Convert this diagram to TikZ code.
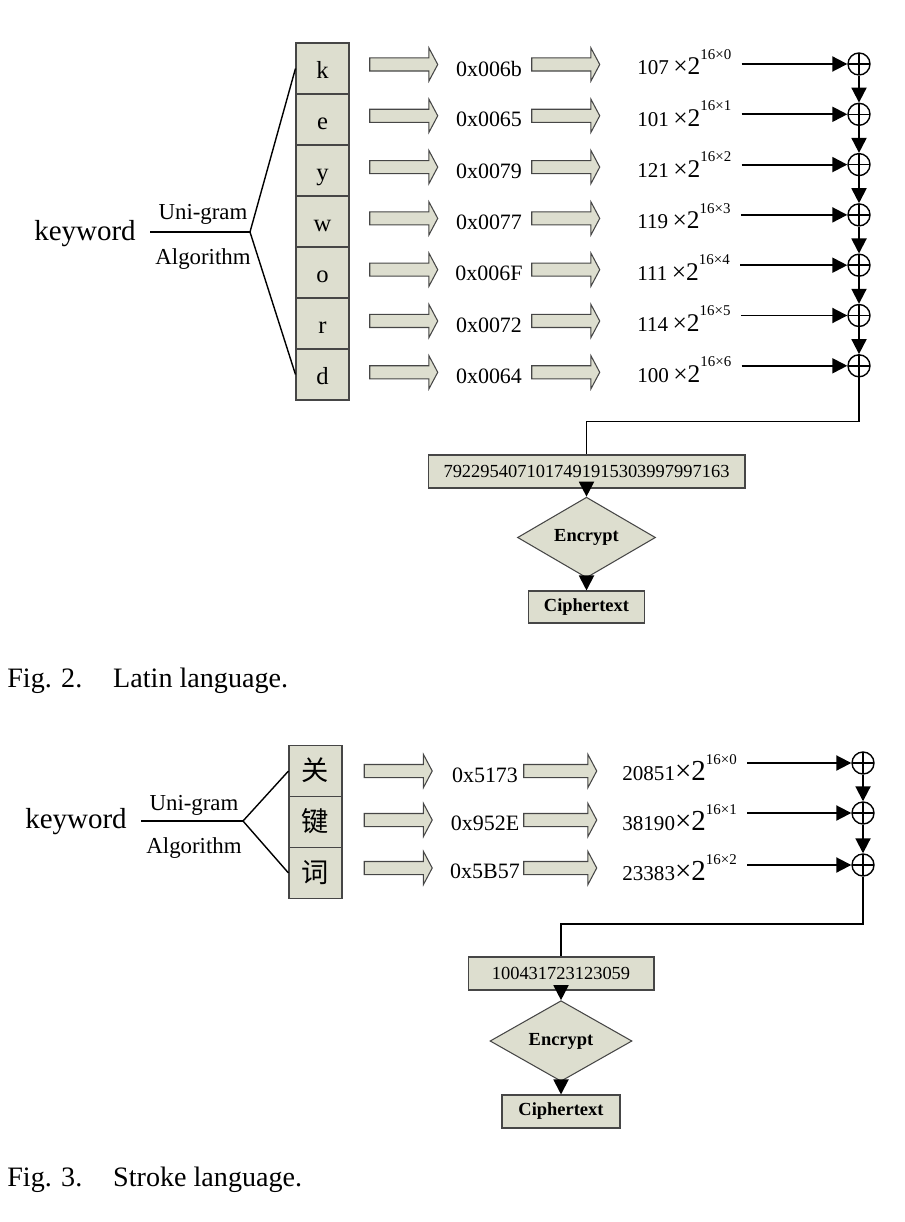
\documentclass[tikz,border=0pt]{standalone}
\usepackage{fontspec}
\setmainfont{Liberation Serif}
\newfontfamily\cjk{Noto Sans CJK SC}
\usetikzlibrary{arrows.meta, shapes.arrows, shapes.geometric, calc}
\definecolor{boxfill}{RGB}{221,222,207}
\definecolor{boxline}{RGB}{70,70,70}
\newcommand{\powterm}[4]{{\fontsize{12}{14}\selectfont #1}#2{\fontsize{#3}{18}\selectfont ×2}\raisebox{9pt}{\fontsize{8.5}{10}\selectfont 16×#4}}

\begin{document}
\begin{tikzpicture}[x=0.02cm, y=-0.02cm]
            \tikzset{cell/.style = {shape=rectangle, draw=boxline, fill=boxfill, line width=0.6pt, minimum width=1.06cm, minimum height=1.02cm, inner sep=0, text height=11.5pt, text depth=0.5pt, font=\fontsize{14}{16}\selectfont}}
            \tikzset{fat/.style = {single arrow, draw=boxline, fill=boxfill, line width=0.6pt, minimum height=1.36cm, inner xsep=0, inner ysep=0.12cm, single arrow head extend=0.2cm, single arrow tip angle=124}}
            \tikzset{hex/.style = {inner sep=0, font=\fontsize{12.5}{14}\selectfont}}
            \tikzset{term/.style = {anchor=base west, inner sep=0, inner xsep=0.2cm}}
            \tikzset{xorop/.style = {shape=circle, draw, line width=0.8pt, minimum size=0.44cm, inner sep=0, path picture={\draw[line width=0.8pt] (path picture bounding box.north) -- (path picture bounding box.south) (path picture bounding box.west) -- (path picture bounding box.east);}}}
            \tikzset{flow/.style = {line width=1.1pt, -{Triangle[length=0.3cm, width=0.3cm]}}}
            \tikzset{link/.style = {line width=1.1pt}}
            \tikzset{branch/.style = {line width=0.8pt}}
            \tikzset{word/.style = {inner ysep=0, inner xsep=0.28cm, font=\fontsize{16.5}{18}\selectfont}}
            \tikzset{lbl/.style = {inner sep=0, font=\fontsize{13}{15}\selectfont}}
            \tikzset{result/.style = {shape=rectangle, draw=boxline, fill=boxfill, line width=0.6pt, minimum height=0.66cm, inner sep=0, font=\fontsize{10.5}{12}\selectfont}}
            \tikzset{decision/.style = {shape=diamond, draw=boxline, fill=boxfill, line width=0.6pt, inner sep=0, font=\bfseries\fontsize{10.5}{12}\selectfont}}
            \tikzset{caption/.style = {anchor=base west, inner sep=0, font=\fontsize{16}{18}\selectfont}}
            \useasboundingbox (0,0) rectangle (904,1222);
            \node[word] (kw1) at (85, 234) {keyword};
            \coordinate (br1) at (250, 232);
            \node[lbl] (uni1) at (203, 214) {Uni-gram};
            \node[lbl] (alg1) at (203, 259) {Algorithm};
            \node[cell] (c1) at (322.5, 68.5) {k};
            \node[cell] (c2) at (322.5, 119.5) {e};
            \node[cell] (c3) at (322.5, 170.5) {y};
            \node[cell] (c4) at (322.5, 221.5) {w};
            \node[cell] (c5) at (322.5, 272.5) {o};
            \node[cell] (c6) at (322.5, 323.5) {r};
            \node[cell] (c7) at (322.5, 374.5) {d};
            \node[fat] (a1) at (402, 64.5) {};
            \node[fat] (a2) at (402, 115.8) {};
            \node[fat] (a3) at (402, 167.1) {};
            \node[fat] (a4) at (402, 218.4) {};
            \node[fat] (a5) at (402, 269.7) {};
            \node[fat] (a6) at (402, 321) {};
            \node[fat] (a7) at (402, 372.3) {};
            \node[hex] (h1) at (489, 68.5) {0x006b};
            \node[hex] (h2) at (489, 119.8) {0x0065};
            \node[hex] (h3) at (489, 171.1) {0x0079};
            \node[hex] (h4) at (489, 222.4) {0x0077};
            \node[hex] (h5) at (489, 273.7) {0x006F};
            \node[hex] (h6) at (489, 325) {0x0072};
            \node[hex] (h7) at (489, 376.3) {0x0064};
            \node[fat] (b1) at (564, 64.5) {};
            \node[fat] (b2) at (564, 115.8) {};
            \node[fat] (b3) at (564, 167.1) {};
            \node[fat] (b4) at (564, 218.4) {};
            \node[fat] (b5) at (564, 269.7) {};
            \node[fat] (b6) at (564, 321) {};
            \node[fat] (b7) at (564, 372.3) {};
            \node[term] (t1) at (627, 75) {\powterm{107}{ }{14.5}{0}};
            \node[term] (t2) at (627, 126.3) {\powterm{101}{ }{14.5}{1}};
            \node[term] (t3) at (627, 177.6) {\powterm{121}{ }{14.5}{2}};
            \node[term] (t4) at (627, 228.9) {\powterm{119}{ }{14.5}{3}};
            \node[term] (t5) at (627, 280.2) {\powterm{111}{ }{14.5}{4}};
            \node[term] (t6) at (627, 331.5) {\powterm{114}{ }{14.5}{5}};
            \node[term] (t7) at (627, 382.8) {\powterm{100}{ }{14.5}{6}};
            \node[xorop] (p1) at (859, 64) {};
            \node[xorop] (p2) at (859, 114.3) {};
            \node[xorop] (p3) at (859, 164.6) {};
            \node[xorop] (p4) at (859, 214.9) {};
            \node[xorop] (p5) at (859, 265.2) {};
            \node[xorop] (p6) at (859, 315.5) {};
            \node[xorop] (p7) at (859, 365.8) {};
            \node[result, minimum width=6.34cm] (num1) at (586.5, 471.5) {7922954071017491915303997997163};
            \node[decision, minimum width=2.76cm, minimum height=0.98cm] (enc1) at (586.5, 537.5) {Encrypt};
            \node[result, minimum width=2.32cm, minimum height=0.64cm, font=\bfseries\fontsize{10.5}{12}\selectfont] (ct1) at (586.5, 607) {Ciphertext};
            \node[caption] (cap1) at (7, 687) {Fig. 2.\hspace{1.1em}Latin language.};
            \draw[branch] (kw1.east |- br1) -- (br1);
            \draw[branch] (br1) -- (c1.west);
            \draw[branch] (br1) -- (c7.west);
            \draw[flow] (t1.east |- p1) -- (p1);
            \draw[flow] (t2.east |- p2) -- (p2);
            \draw[flow] (t3.east |- p3) -- (p3);
            \draw[flow] (t4.east |- p4) -- (p4);
            \draw[flow] (t5.east |- p5) -- (p5);
            \draw[flow] (t6.east |- p6) -- (p6);
            \draw[flow] (t7.east |- p7) -- (p7);
            \draw[flow] (p1) -- (p2);
            \draw[flow] (p2) -- (p3);
            \draw[flow] (p3) -- (p4);
            \draw[flow] (p4) -- (p5);
            \draw[flow] (p5) -- (p6);
            \draw[flow] (p6) -- (p7);
            \draw[link] (p7.south) -- ++(0, 44) -| (num1.north);
            \draw[flow] (num1) -- (enc1);
            \draw[flow] (enc1) -- (ct1);
            \node[word] (kw2) at (76, 822) {keyword};
            \coordinate (br2) at (243, 821);
            \node[lbl] (uni2) at (194, 805) {Uni-gram};
            \node[lbl] (alg2) at (194, 848) {Algorithm};
            \node[cell, font=\cjk\fontsize{15.5}{17}\selectfont] (d1) at (315.5, 771) {关};
            \node[cell, font=\cjk\fontsize{15.5}{17}\selectfont] (d2) at (315.5, 822) {键};
            \node[cell, font=\cjk\fontsize{15.5}{17}\selectfont] (d3) at (315.5, 873) {词};
            \node[fat] (e1) at (396.5, 771) {};
            \node[fat] (e2) at (396.5, 820) {};
            \node[fat] (e3) at (396.5, 868) {};
            \node[hex] (k1) at (485, 775) {0x5173};
            \node[hex] (k2) at (485, 823.5) {0x952E};
            \node[hex] (k3) at (485, 871.5) {0x5B57};
            \node[fat, minimum height=1.46cm] (f1) at (558.5, 771) {};
            \node[fat, minimum height=1.46cm] (f2) at (558.5, 820) {};
            \node[fat, minimum height=1.46cm] (f3) at (558.5, 868) {};
            \node[term] (s1) at (612, 780) {\powterm{20851}{}{16.5}{0}};
            \node[term] (s2) at (612, 830) {\powterm{38190}{}{16.5}{1}};
            \node[term] (s3) at (612, 880) {\powterm{23383}{}{16.5}{2}};
            \node[xorop] (q1) at (863, 763) {};
            \node[xorop] (q2) at (863, 813) {};
            \node[xorop] (q3) at (863, 865) {};
            \node[result, minimum width=3.72cm] (num2) at (561, 973.5) {100431723123059};
            \node[decision, minimum width=2.84cm, minimum height=1.0cm] (enc2) at (561, 1041) {Encrypt};
            \node[result, minimum width=2.36cm, font=\bfseries\fontsize{10.5}{12}\selectfont] (ct2) at (561, 1111.5) {Ciphertext};
            \node[caption] (cap2) at (7, 1186) {Fig. 3.\hspace{1.1em}Stroke language.};
            \draw[branch] (kw2.east |- br2) -- (br2);
            \draw[branch] (br2) -- (d1.west);
            \draw[branch] (br2) -- (d3.west);
            \draw[flow] (s1.east |- q1) -- (q1);
            \draw[flow] (s2.east |- q2) -- (q2);
            \draw[flow] (s3.east |- q3) -- (q3);
            \draw[flow] (q1) -- (q2);
            \draw[flow] (q2) -- (q3);
            \draw[link] (q3.south) -- ++(0, 47) -| (num2.north);
            \draw[flow] (num2) -- (enc2);
            \draw[flow] (enc2) -- (ct2);
\end{tikzpicture}
\end{document}
